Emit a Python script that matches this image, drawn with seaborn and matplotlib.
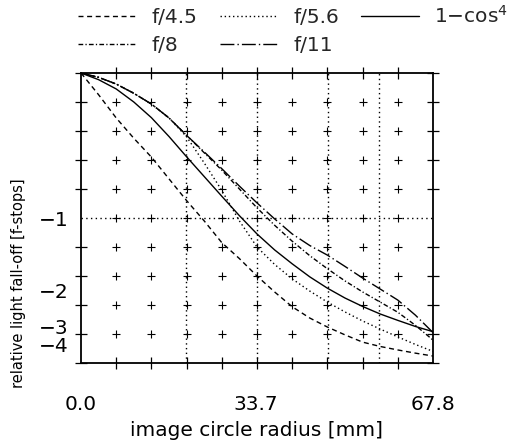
import numpy as np
import pandas as pd
import matplotlib
matplotlib.use("Agg")
import matplotlib.pyplot as plt
from matplotlib.lines import Line2D
import seaborn as sns

# ---- data ----
radius_mm = [0, 3.39, 6.78, 10.17, 13.56, 16.95, 20.34, 23.73, 27.12, 30.51, 33.9,
             37.29, 40.68, 44.07, 47.46, 50.85, 54.24, 57.63, 61.02, 64.41, 67.8]
f45 = [1.0, 0.925, 0.845, 0.775, 0.710, 0.635, 0.560, 0.490, 0.415, 0.360, 0.300,
       0.245, 0.194, 0.155, 0.124, 0.097, 0.072, 0.057, 0.045, 0.034, 0.024]
f56 = [1.0, 0.985, 0.962, 0.930, 0.893, 0.845, 0.780, 0.690, 0.595, 0.490, 0.400,
       0.340, 0.290, 0.248, 0.210, 0.176, 0.145, 0.117, 0.090, 0.064, 0.040]
f8 = [1.0, 0.985, 0.962, 0.930, 0.893, 0.845, 0.785, 0.725, 0.665, 0.600, 0.535,
      0.475, 0.420, 0.370, 0.325, 0.283, 0.245, 0.210, 0.175, 0.130, 0.079]
f11 = [1.0, 0.985, 0.962, 0.930, 0.893, 0.845, 0.785, 0.728, 0.670, 0.610, 0.552,
       0.497, 0.445, 0.405, 0.372, 0.333, 0.293, 0.255, 0.217, 0.165, 0.105]
cos4 = [1.0, 0.977, 0.945, 0.900, 0.846, 0.781, 0.711, 0.643, 0.575, 0.508, 0.445,
        0.390, 0.342, 0.297, 0.258, 0.224, 0.195, 0.169, 0.147, 0.126, 0.108]
series_names = ["f/4.5", "f/8", "f/5.6", "f/11", "1\u2212cos$^4$"]

x_tick_pos = [0.0, 33.7, 67.8]
x_tick_labels = ["0.0", "33.7", "67.8"]
y_tick_pos = [0.5, 0.25, 0.125, 0.0625]
y_tick_labels = ["\u22121", "\u22122", "\u22123", "\u22124"]
vlines_mm = [20.3, 33.9, 47.5, 57.4]
hlines_rel = [0.5]

# ---- styling ----
sns.set_theme(style="white")
plt.rcParams["font.family"] = ["DejaVu Sans"]
plt.rcParams["mathtext.fontset"] = "dejavusans"
plt.rcParams["lines.scale_dashes"] = False

dash_styles = {
    "f/4.5": (3.6, 2.6),
    "f/8": (3.4, 1.6, 0.9, 1.6),
    "f/5.6": (1.0, 2.0),
    "f/11": (10.0, 2.2, 1.0, 2.2),
    "1\u2212cos$^4$": "",
}

frames = []
for name, vals in zip(series_names, [f45, f8, f56, f11, cos4]):
    frames.append(pd.DataFrame({"r": radius_mm, "v": vals, "series": name}))
df = pd.concat(frames, ignore_index=True)

fig = plt.figure(figsize=(5.28, 4.41), dpi=100)
ax = fig.add_axes([81 / 528, 1 - 363 / 441, 352 / 528, 290 / 441])

sns.lineplot(data=df, x="r", y="v", style="series", dashes=dash_styles,
             color="black", linewidth=1.0, legend=False, ax=ax, sort=False)

ax.set_xlim(0, 67.8)
ax.set_ylim(0, 1)

for xv in vlines_mm:
    ax.axvline(xv, color="black", linestyle=(0, (1.0, 2.4)), linewidth=1.0, zorder=1)
for yv in hlines_rel:
    ax.axhline(yv, color="black", linestyle=(0, (1.0, 2.4)), linewidth=1.0, zorder=1)

gx = np.linspace(0, 67.8, 11)
gy = np.linspace(0, 1, 11)
GX, GY = np.meshgrid(gx[1:-1], gy[1:-1])
ax.scatter(GX.ravel(), GY.ravel(), marker="+", s=30, color="black", linewidths=0.8, zorder=2)

ax.set_xticks(gx, minor=True)
ax.set_yticks(gy, minor=True)
ax.set_xticks(x_tick_pos)
ax.set_xticklabels(x_tick_labels)
ax.set_yticks(y_tick_pos)
ax.set_yticklabels(y_tick_labels)
ax.tick_params(which="minor", direction="inout", length=8, width=0.9, color="black",
               top=True, right=True, bottom=True, left=True)
ax.tick_params(which="major", length=0, labelsize=14.5, colors="black")
ax.tick_params(axis="x", which="major", pad=23)
ax.tick_params(axis="y", which="major", pad=9)

for s in ax.spines.values():
    s.set_visible(True)
    s.set_color("black")
    s.set_linewidth(1.3)

ax.set_xlabel("image circle radius [mm]", fontsize=14.5, labelpad=5, color="black")
ax.set_ylabel("")
fig.text(19 / 528, 1 - 283 / 441, "relative light fall-off [f-stops]", rotation=90,
         ha="center", va="center", fontsize=10.5, color="black")

handles = [Line2D([], [], color="black", linewidth=1.0,
                  linestyle=((0, dash_styles[n]) if dash_styles[n] else "-"))
           for n in series_names]
fig.legend(handles, series_names, loc="upper left", bbox_to_anchor=(78 / 528, 1 - 5 / 441),
           ncol=3, frameon=False, fontsize=14.5, handlelength=2.9, handletextpad=0.75,
           columnspacing=1.1, labelspacing=0.45, borderpad=0, borderaxespad=0)

fig.savefig("out.png", dpi=100, facecolor="white")
